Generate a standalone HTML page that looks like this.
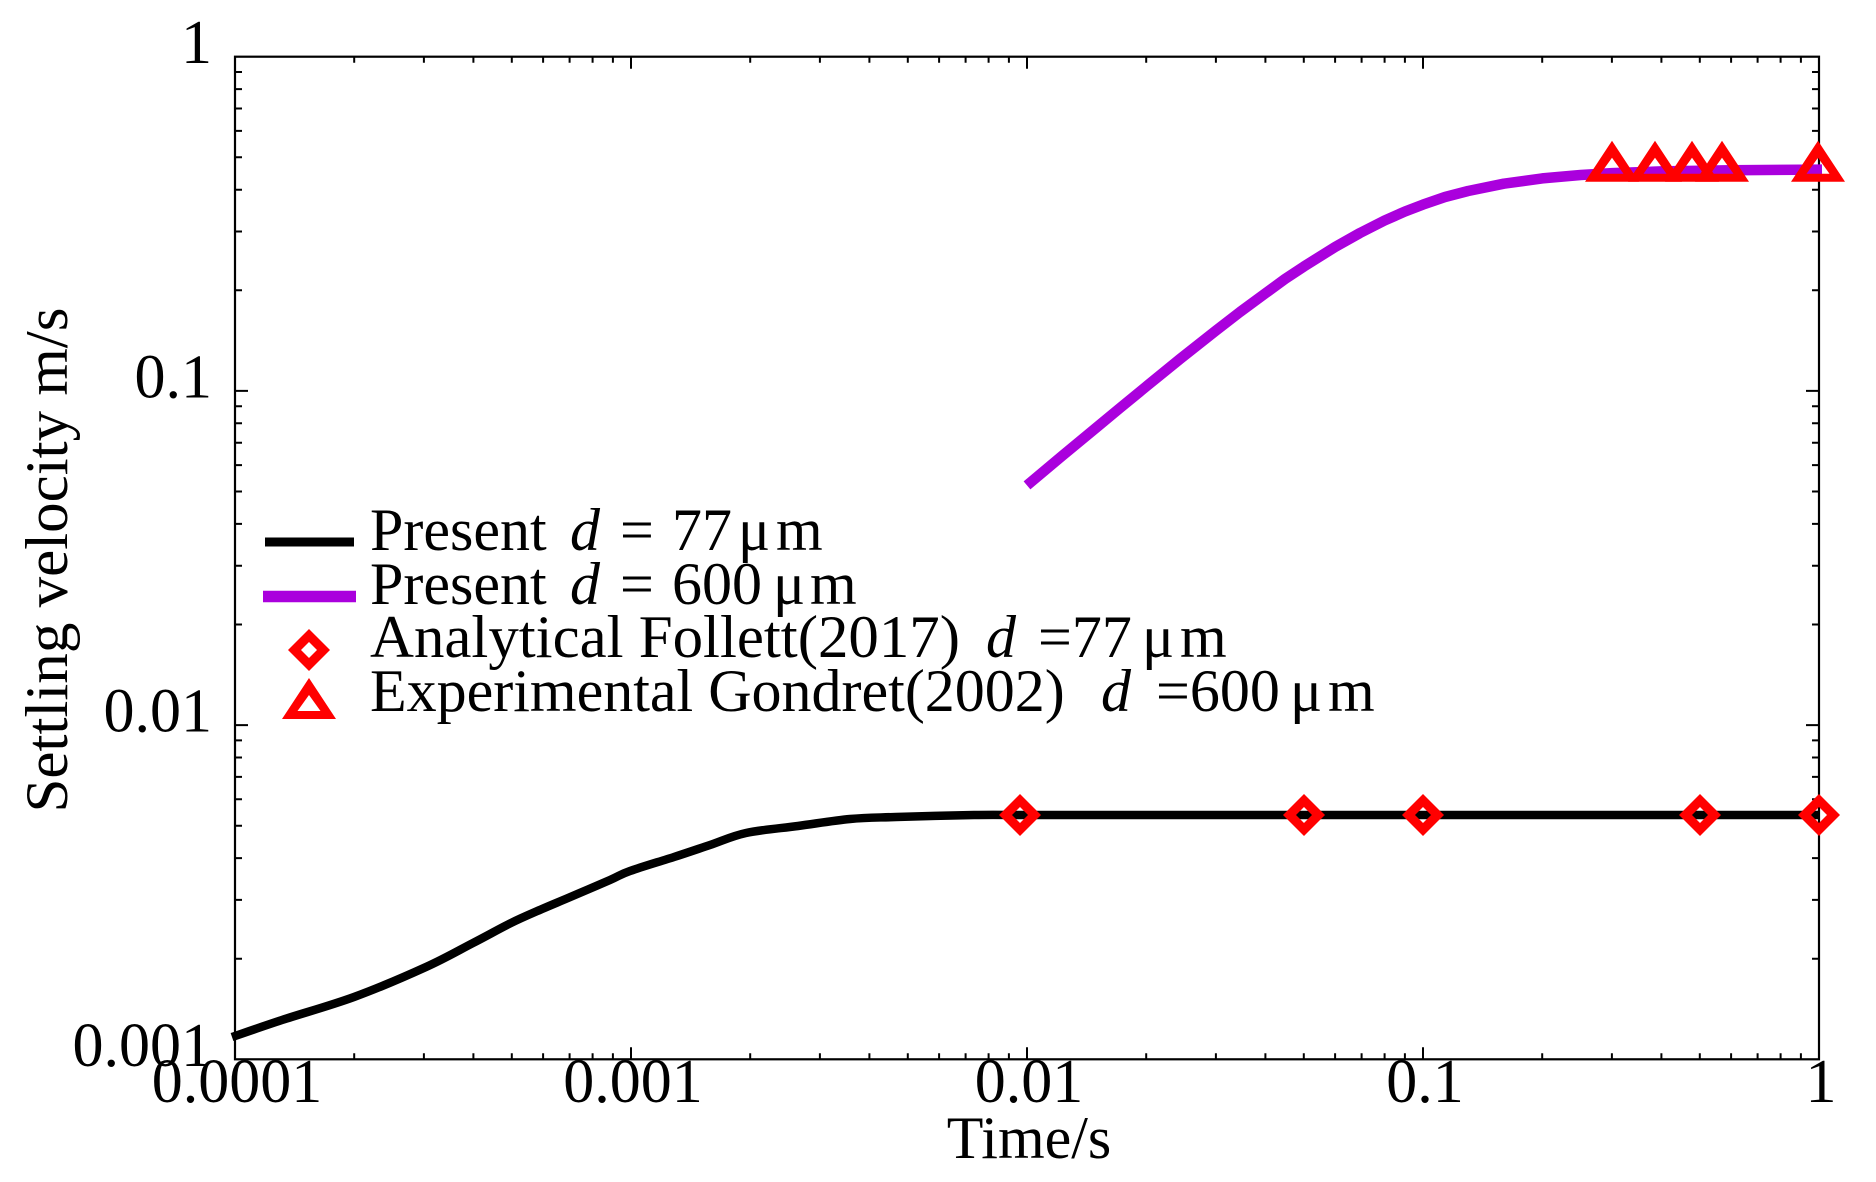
<!DOCTYPE html>
<html>
<head>
<meta charset="utf-8">
<style>
  html, body { margin: 0; padding: 0; background: #ffffff; }
  svg { display: block; }
  text { font-family: "Liberation Serif", "DejaVu Serif", serif; fill: #000; }
</style>
</head>
<body>
<svg width="1876" height="1182" viewBox="0 0 1876 1182" xmlns="http://www.w3.org/2000/svg">
  <rect x="0" y="0" width="1876" height="1182" fill="#ffffff"/>

  <!-- frame -->
  <rect x="235" y="56.7" width="1584" height="1002.6" fill="none" stroke="#000" stroke-width="2.2"/>

  <!-- ticks -->
  <path fill="none" stroke="#000" stroke-width="2"
    d="M354.2 1059.3v-6M423.9 1059.3v-6M473.4 1059.3v-6M511.8 1059.3v-6M543.1 1059.3v-6M569.6 1059.3v-6M592.6 1059.3v-6M612.9 1059.3v-6
       M631 1059.3v-12
       M750.2 1059.3v-6M819.9 1059.3v-6M869.4 1059.3v-6M907.8 1059.3v-6M939.1 1059.3v-6M965.6 1059.3v-6M988.6 1059.3v-6M1008.9 1059.3v-6
       M1027 1059.3v-12
       M1146.2 1059.3v-6M1215.9 1059.3v-6M1265.4 1059.3v-6M1303.8 1059.3v-6M1335.1 1059.3v-6M1361.6 1059.3v-6M1384.6 1059.3v-6M1404.9 1059.3v-6
       M1423 1059.3v-12
       M1542.2 1059.3v-6M1611.9 1059.3v-6M1661.4 1059.3v-6M1699.8 1059.3v-6M1731.1 1059.3v-6M1757.6 1059.3v-6M1780.6 1059.3v-6M1800.9 1059.3v-6

       M354.2 56.7v6M423.9 56.7v6M473.4 56.7v6M511.8 56.7v6M543.1 56.7v6M569.6 56.7v6M592.6 56.7v6M612.9 56.7v6
       M631 56.7v12
       M750.2 56.7v6M819.9 56.7v6M869.4 56.7v6M907.8 56.7v6M939.1 56.7v6M965.6 56.7v6M988.6 56.7v6M1008.9 56.7v6
       M1027 56.7v12
       M1146.2 56.7v6M1215.9 56.7v6M1265.4 56.7v6M1303.8 56.7v6M1335.1 56.7v6M1361.6 56.7v6M1384.6 56.7v6M1404.9 56.7v6
       M1423 56.7v12
       M1542.2 56.7v6M1611.9 56.7v6M1661.4 56.7v6M1699.8 56.7v6M1731.1 56.7v6M1757.6 56.7v6M1780.6 56.7v6M1800.9 56.7v6

       M235 958.7h7M235 899.9h7M235 858.1h7M235 825.7h7M235 799.3h7M235 776.9h7M235 757.5h7M235 740.4h7
       M235 725.1h13
       M235 624.5h7M235 565.7h7M235 523.9h7M235 491.5h7M235 465.1h7M235 442.7h7M235 423.3h7M235 406.2h7
       M235 390.9h13
       M235 290.3h7M235 231.5h7M235 189.7h7M235 157.3h7M235 130.9h7M235 108.5h7M235 89.1h7M235 72h7

       M1819 958.7h-7M1819 899.9h-7M1819 858.1h-7M1819 825.7h-7M1819 799.3h-7M1819 776.9h-7M1819 757.5h-7M1819 740.4h-7
       M1819 725.1h-13
       M1819 624.5h-7M1819 565.7h-7M1819 523.9h-7M1819 491.5h-7M1819 465.1h-7M1819 442.7h-7M1819 423.3h-7M1819 406.2h-7
       M1819 390.9h-13
       M1819 290.3h-7M1819 231.5h-7M1819 189.7h-7M1819 157.3h-7M1819 130.9h-7M1819 108.5h-7M1819 89.1h-7M1819 72h-7"/>

  <!-- y tick labels -->
  <g font-size="62" text-anchor="end">
    <text x="212" y="63.2">1</text>
    <text x="212" y="397.4">0.1</text>
    <text x="212" y="731.6">0.01</text>
    <text x="212" y="1065.8">0.001</text>
  </g>

  <!-- x tick labels -->
  <g font-size="62" text-anchor="middle">
    <text x="237" y="1102">0.0001</text>
    <text x="633" y="1102">0.001</text>
    <text x="1029" y="1102">0.01</text>
    <text x="1425" y="1102">0.1</text>
    <text x="1821" y="1102">1</text>
  </g>

  <!-- axis titles -->
  <text x="1029" y="1158" font-size="60" text-anchor="middle">Time/s</text>
  <text transform="translate(67 560) rotate(-90)" font-size="60" text-anchor="middle" textLength="505" lengthAdjust="spacingAndGlyphs">Settling velocity m/s</text>

  <!-- black series: d = 77 um -->
  <path fill="none" stroke="#000" stroke-width="8.5" stroke-linejoin="round"
    d="M232 1037
       C240.3 1034.2 261.7 1026.7 282 1020
       C302.3 1013.3 330 1005.8 354 997
       C378 988.2 406.2 976 426 967
       C445.8 958 458.8 950.3 473 943
       C487.2 935.7 499.5 928.7 511 923
       C522.5 917.3 532.5 913.2 542 909
       C551.5 904.8 556.7 902.8 568 898
       C579.3 893.2 599.7 884.5 610 880
       C620.3 875.5 619.3 874.8 630 871
       C640.7 867.2 660.7 861.3 674 857
       C687.3 852.7 698 849 710 845
       C722 841 731.3 836.2 746 833
       C760.7 829.8 780.7 828.3 798 826
       C815.3 823.7 833.7 820.5 850 819
       C866.3 817.5 875.3 817.7 896 817
       C916.7 816.3 953.3 815.3 974 815
       C994.7 814.7 1012.3 815 1020 815
       L1819 815"/>

  <!-- purple series: d = 600 um -->
  <polyline fill="none" stroke="#aa00dd" stroke-width="10.5" stroke-linejoin="round"
    points="1027,485.4 1062,456 1096.7,427.3 1120,408 1146.2,386.5 1180,359 1215.9,330.6 1240,312 1265.4,293.3 1285,279 1303.8,266.6 1335.2,246.9 1360,233 1384.6,220.5 1405,211.5 1423,204.6 1445,197 1468.1,191 1503.8,183.7 1542.2,178.4 1580.6,175 1612,173.1 1661.4,171.4 1731,170.2 1822,169.6"/>

  <!-- diamonds -->
  <g fill="#ff0000" fill-rule="evenodd">
    <path transform="translate(1020 815)" d="M0 -21L21 0L0 21L-21 0Z M0 -8L8 0L0 8L-8 0Z"/>
    <path transform="translate(1304 815)" d="M0 -21L21 0L0 21L-21 0Z M0 -8L8 0L0 8L-8 0Z"/>
    <path transform="translate(1423 815)" d="M0 -21L21 0L0 21L-21 0Z M0 -8L8 0L0 8L-8 0Z"/>
    <path transform="translate(1700 815)" d="M0 -21L21 0L0 21L-21 0Z M0 -8L8 0L0 8L-8 0Z"/>
    <path transform="translate(1819 815)" d="M0 -21L21 0L0 21L-21 0Z M0 -8L8 0L0 8L-8 0Z"/>
  </g>

  <!-- triangles -->
  <g fill="#ff0000" fill-rule="evenodd">
    <path transform="translate(1612 168.7)" d="M0 -28L27 13L-27 13Z M0 -11L11.5 5L-11.5 5Z"/>
    <path transform="translate(1655 168.7)" d="M0 -28L27 13L-27 13Z M0 -11L11.5 5L-11.5 5Z"/>
    <path transform="translate(1692 168.7)" d="M0 -28L27 13L-27 13Z M0 -11L11.5 5L-11.5 5Z"/>
    <path transform="translate(1722 168.7)" d="M0 -28L27 13L-27 13Z M0 -11L11.5 5L-11.5 5Z"/>
    <path transform="translate(1818 168.7)" d="M0 -28L27 13L-27 13Z M0 -11L11.5 5L-11.5 5Z"/>
  </g>

  <!-- legend symbols -->
  <line x1="265" y1="542" x2="354" y2="542" stroke="#000" stroke-width="9"/>
  <line x1="263" y1="596.5" x2="356" y2="596.5" stroke="#aa00dd" stroke-width="11.6"/>
  <path transform="translate(309 650)" fill="#ff0000" fill-rule="evenodd" d="M0 -21L21 0L0 21L-21 0Z M0 -8L8 0L0 8L-8 0Z"/>
  <path transform="translate(309 706)" fill="#ff0000" fill-rule="evenodd" d="M0 -28L27 13L-27 13Z M0 -11L11.5 5L-11.5 5Z"/>

  <!-- legend text -->
  <g font-size="60">
    <text y="550"><tspan x="370">Present</tspan><tspan x="570" font-style="italic">d</tspan><tspan x="620">=</tspan><tspan x="672">77</tspan><tspan x="738">μ</tspan><tspan x="776">m</tspan></text>
    <text y="604"><tspan x="370">Present</tspan><tspan x="570" font-style="italic">d</tspan><tspan x="620">=</tspan><tspan x="672">600</tspan><tspan x="773">μ</tspan><tspan x="810">m</tspan></text>
    <text y="657"><tspan x="370" textLength="590" lengthAdjust="spacingAndGlyphs">Analytical Follett(2017)</tspan><tspan x="986" font-style="italic">d</tspan><tspan x="1038">=77</tspan><tspan x="1142">μ</tspan><tspan x="1180">m</tspan></text>
    <text y="711"><tspan x="370">Experimental Gondret(2002)</tspan><tspan x="1101" font-style="italic">d</tspan><tspan x="1156">=600</tspan><tspan x="1290">μ</tspan><tspan x="1328">m</tspan></text>
  </g>
</svg>
</body>
</html>
